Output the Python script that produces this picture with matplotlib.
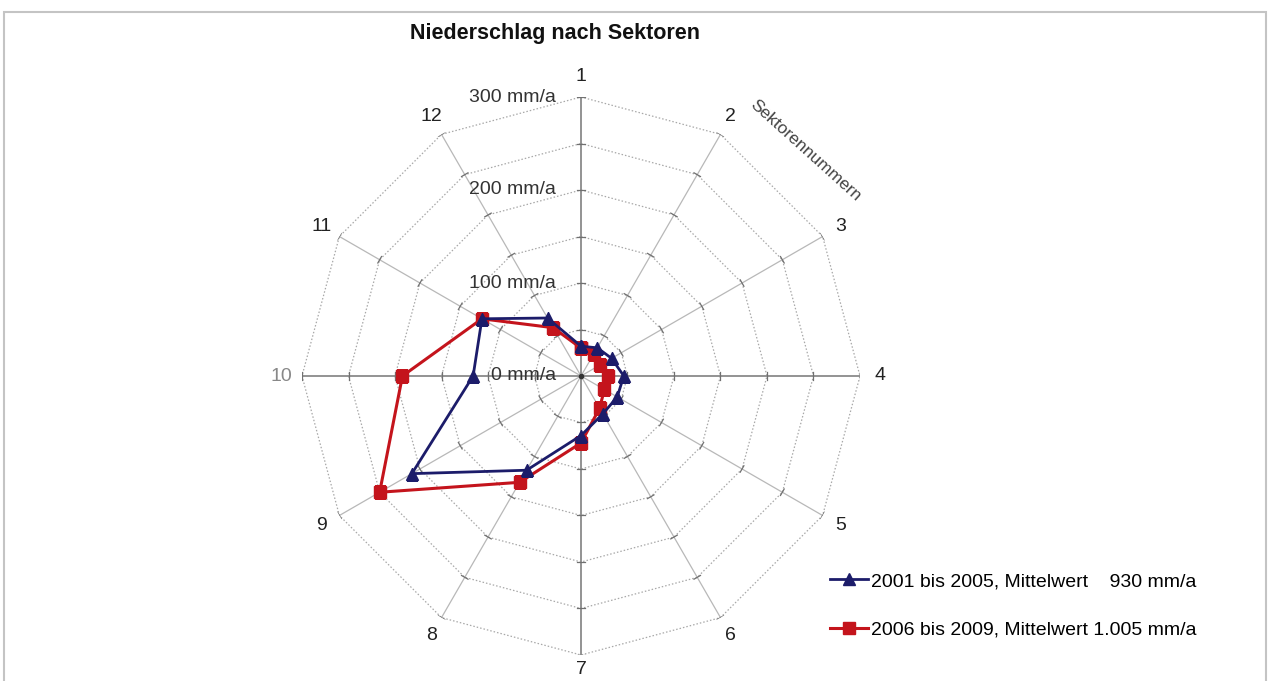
import numpy as np
import matplotlib.pyplot as plt

plt.rcParams['font.family'] = ['Liberation Sans', 'DejaVu Sans']

# precipitation per wind sector, mm/a
sectors = [str(s) for s in range(1, 13)]
p_2001_2005 = [32, 35, 38, 46, 45, 47, 64, 117, 210, 116, 123, 72]
p_2006_2009 = [30, 27, 24, 29, 29, 40, 72, 132, 250, 192, 123, 60]
series_labels = ['2001 bis 2005, Mittelwert    930 mm/a',
                 '2006 bis 2009, Mittelwert 1.005 mm/a']
rings = [50, 100, 150, 200, 250, 300]
value_ticks = [0, 100, 200, 300]

W, H = 1271, 681
fig = plt.figure(figsize=(W / 100, H / 100), dpi=100)
cx, cy, rad = 581, 376, 279
ax = fig.add_axes([(cx - rad) / W, (H - cy - rad) / H, 2 * rad / W, 2 * rad / H],
                  projection='polar')
ax.set_theta_offset(np.pi / 2)
ax.set_theta_direction(-1)
ax.set_ylim(0, 300)
ax.grid(False)
ax.set_xticks([])
ax.set_yticks([])
ax.spines['polar'].set_visible(False)
ax.patch.set_alpha(0)

theta = 2 * np.pi * np.arange(12) / 12
closed = np.append(theta, theta[0])

# dodecagon rings
for r in rings:
    ax.plot(closed, [r] * 13, color='#a8a8a8', lw=0.9, ls=(0, (1.2, 1.6)), zorder=1)

# spokes with small ticks at each ring
for i, t in enumerate(theta):
    main = i % 3 == 0
    ax.plot([t, t], [0, 300], color='#8a8a8a' if main else '#b8b8b8',
            lw=1.3 if main else 0.9, zorder=1)
    for r in rings:
        d = 4.0 / r
        ax.plot([t - d, t + d], [r, r], color='#707070', lw=0.9, zorder=1)

ax.plot([0], [0], 'o', color='#333333', ms=3, zorder=2)

# sector numbers; the bottom one sits a little closer to stay on the canvas
for t, s in zip(theta, sectors):
    ax.text(t, 316 if s == '7' else 322, s, ha='center', va='center', fontsize=14,
            color='#888888' if s == '10' else '#222222', clip_on=False)

# value axis labels
for v in value_ticks:
    ax.annotate(f'{v} mm/a', xy=(0, v), xytext=(-25, 0), textcoords='offset pixels',
                ha='right', va='center', fontsize=14, color='#333333', zorder=2)

l1, = ax.plot(closed, p_2001_2005 + p_2001_2005[:1], color='#1c1c6a', lw=2,
              marker='^', ms=8, zorder=4)
l2, = ax.plot(closed, p_2006_2009 + p_2006_2009[:1], color='#c4141c', lw=2.2,
              marker='s', ms=8, zorder=3)

fig.text(555 / W, 1 - 34 / H, 'Niederschlag nach Sektoren', ha='center', va='center',
         fontsize=15.5, fontweight='bold', color='#111111')
fig.text(805 / W, 1 - 151 / H, 'Sektorennummern', ha='center', va='center',
         rotation=-42, fontsize=12.5, color='#444444')

fig.legend([l1, l2], series_labels, loc='upper left',
           bbox_to_anchor=(812 / W, 1 - 555 / H), frameon=False, fontsize=14,
           handlelength=2.0, handletextpad=0.15, labelspacing=1.6)

fig.add_artist(plt.Rectangle((4 / W, -0.05), 1262 / W, 1.05 - 12 / H,
                             transform=fig.transFigure, fill=False,
                             ec='#c4c4c4', lw=1.5))

fig.savefig('out.png', dpi=100)
